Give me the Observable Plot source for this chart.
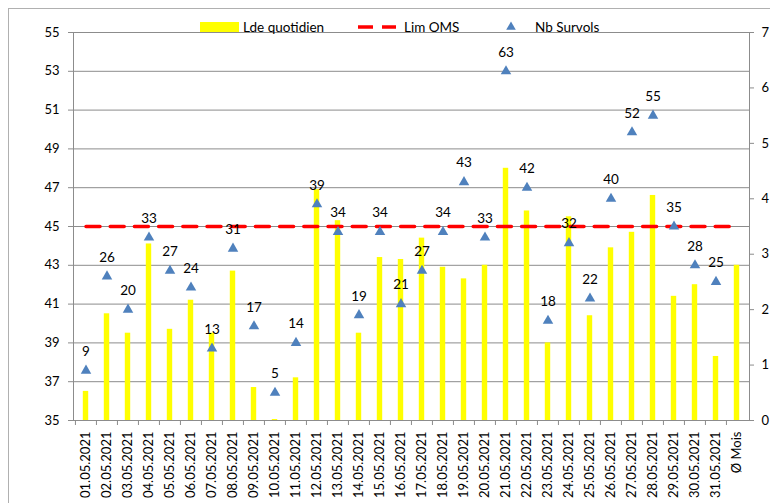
<!DOCTYPE html>
<html>
<head>
<meta charset="utf-8">
<script src="https://cdn.jsdelivr.net/npm/d3@7"></script>
<script src="https://cdn.jsdelivr.net/npm/@observablehq/plot@0.6"></script>
<style>
  html, body { margin: 0; padding: 0; background: #fff; overflow: hidden; width: 770px; height: 503px; }
  #wrap { position: relative; width: 770px; height: 503px; font-family: Lato, "Liberation Sans", sans-serif; }
  #border { position: absolute; left: 8px; top: 8px; width: 800px; height: 600px; border: 1px solid #b0b0b0; box-sizing: border-box; }
  #legend { position: absolute; left: 0; top: 0; }
  #chart { position: absolute; left: 0; top: 0; }
</style>
</head>
<body>
<div id="wrap">
  <div id="border"></div>
  <div id="chart"></div>
  <svg id="legend" width="770" height="40"></svg>
</div>
<script>
const dates = ["01.05.2021","02.05.2021","03.05.2021","04.05.2021","05.05.2021","06.05.2021","07.05.2021","08.05.2021","09.05.2021","10.05.2021","11.05.2021","12.05.2021","13.05.2021","14.05.2021","15.05.2021","16.05.2021","17.05.2021","18.05.2021","19.05.2021","20.05.2021","21.05.2021","22.05.2021","23.05.2021","24.05.2021","25.05.2021","26.05.2021","27.05.2021","28.05.2021","29.05.2021","30.05.2021","31.05.2021","Ø Mois"];
const ldeQuotidien = [36.5,40.5,39.5,44.1,39.7,41.2,39.5,42.7,36.7,35.05,37.2,46.9,45.3,39.5,43.4,43.3,44.4,42.9,42.3,43.0,48.0,45.8,39.0,45.5,40.4,43.9,44.7,46.6,41.4,42.0,38.3,43.0];
const nbSurvols = [9,26,20,33,27,24,13,31,17,5,14,39,34,19,34,21,27,34,43,33,63,42,18,32,22,40,52,55,35,28,25];
const limOMS = 45;
const leftTicks = [35,37,39,41,43,45,47,49,51,53,55];
const rightTicks = [0,1,2,3,4,5,6,7];

const W = 770, H = 503, mL = 73, mR = 21, mT = 32, mB = 83;
const bw = (W - mL - mR) / dates.length;
const toLeft = v => 35 + v * 20 / 7;     // right-axis units -> left-axis units
const fromLeft = y => Math.round((y - 35) * 7 / 20);

const rows = dates.map((d, i) => ({date: d, lde: ldeQuotidien[i], lim: limOMS}));
const surv = nbSurvols.map((n, i) => ({date: dates[i], n}));

const gray = "#8c8c8c";
const font = "Lato, 'Liberation Sans', sans-serif";

const chart = Plot.plot({
  width: W, height: H,
  marginLeft: mL, marginRight: mR, marginTop: mT, marginBottom: mB,
  style: {fontFamily: font, fontSize: "13px", color: "#000", background: "transparent"},
  x: {domain: dates, padding: 0, axis: null, label: null},
  y: {domain: [35, 55], axis: null, label: null},
  marks: [
    Plot.gridY(leftTicks, {stroke: gray, strokeOpacity: 1, strokeWidth: 1}),
    Plot.barY(rows, {x: "date", y1: 35, y2: "lde", fill: "#ffff00", insetLeft: 7.8, insetRight: 7.8}),
    Plot.lineY(rows, {x: "date", y: "lim", stroke: "#ff0000", strokeWidth: 3.5, strokeDasharray: "14,10.2"}),
    Plot.frame({stroke: gray, strokeWidth: 1}),
    Plot.ruleX(dates, {x: d => d, y1: 35, y2: 35, insetBottom: -5, dx: -bw / 2, stroke: gray}),
    Plot.axisY({anchor: "left", ticks: leftTicks, tickSize: 5, tickPadding: 9, stroke: gray, fontSize: 13, tickFormat: d => d, label: null}),
    Plot.axisY({anchor: "right", ticks: rightTicks.map(toLeft), tickFormat: fromLeft, tickSize: 4, tickPadding: 8, stroke: gray, fontSize: 13, label: null}),
    Plot.axisX({anchor: "bottom", tickSize: 0, tickPadding: 11, tickRotate: -90, fontSize: 13, label: null}),
    Plot.dot(surv, {x: "date", y: d => toLeft(d.n / 10), symbol: "triangle", fill: "#4f81bd", stroke: null, r: 3.9}),
    Plot.text(surv, {x: "date", y: d => toLeft(d.n / 10), text: d => String(d.n), dy: -19, fontSize: 13.5, fill: "#000"})
  ]
});
document.getElementById("chart").appendChild(chart);

// Legend
const lg = d3.select("#legend");
const legendItems = [
  {label: "Lde quotidien", type: "bar", x: 200, tx: 243},
  {label: "Lim OMS", type: "line", x: 358, tx: 404},
  {label: "Nb Survols", type: "tri", x: 511, tx: 535}
];
legendItems.forEach(it => {
  if (it.type === "bar") lg.append("rect").attr("x", it.x).attr("y", 22).attr("width", 39).attr("height", 10).attr("fill", "#ffff00");
  if (it.type === "line") lg.append("line").attr("x1", it.x).attr("x2", it.x + 38).attr("y1", 27).attr("y2", 27)
      .attr("stroke", "#ff0000").attr("stroke-width", 3.5).attr("stroke-dasharray", "15,9");
  if (it.type === "tri") lg.append("path").attr("transform", `translate(${it.x},27)`)
      .attr("d", d3.symbol(d3.symbolTriangle, 40)()).attr("fill", "#4f81bd");
  lg.append("text").attr("x", it.tx).attr("y", 32).attr("font-family", font).attr("font-size", 13.5).attr("fill", "#000").text(it.label);
});
</script>
</body>
</html>
